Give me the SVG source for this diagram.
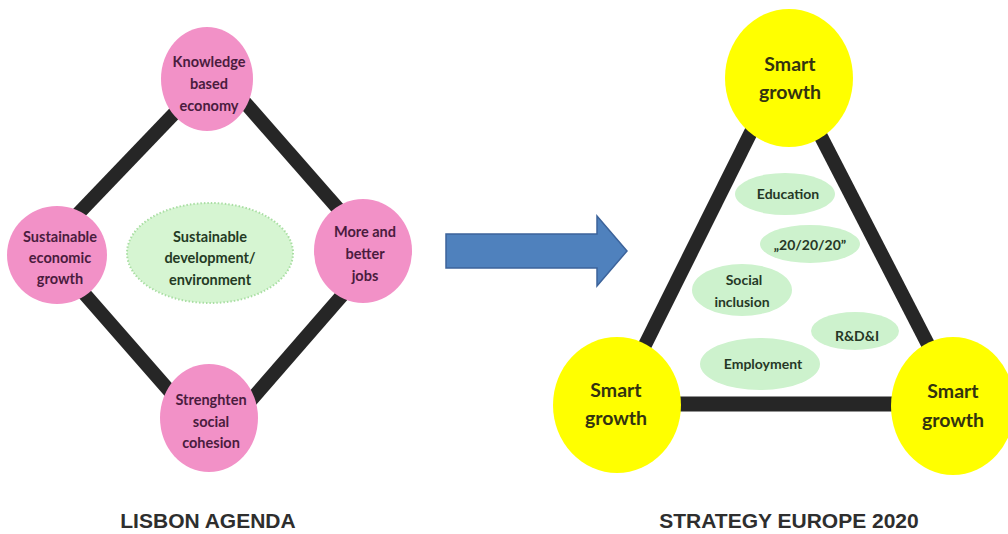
<svg xmlns="http://www.w3.org/2000/svg" width="1008" height="534" viewBox="0 0 1008 534">
<style>
.ln{stroke:#262626;stroke-width:14;stroke-linecap:butt;fill:none}
.pink{fill:#f291c7}
.yel{fill:#ffff00}
.gr{fill:#cdf2cd}
.pt{font-family:Lato,"Open Sans",sans-serif;font-weight:bold;font-size:14.5px;fill:#4a1c3e;text-anchor:middle}
.yt{font-family:Lato,"Open Sans",sans-serif;font-weight:bold;font-size:19.5px;fill:#333310;text-anchor:middle}
.gt{font-family:Lato,"Open Sans",sans-serif;font-weight:bold;font-size:14px;fill:#263826;text-anchor:middle}
.ct{font-family:Lato,"Open Sans",sans-serif;font-weight:bold;font-size:14.5px;fill:#243a24;text-anchor:middle}
.cap{font-family:"Liberation Sans",Arial,sans-serif;font-weight:bold;font-size:21px;fill:#2e2e2e;text-anchor:middle}
</style>
<rect width="1008" height="534" fill="#fff"/>
<g id="connectors">
<line class="ln" x1="190" y1="97" x2="75" y2="217"/>
<line class="ln" x1="240" y1="97" x2="348" y2="220"/>
<line class="ln" x1="75" y1="283" x2="180" y2="403"/>
<line class="ln" x1="352" y1="284" x2="245" y2="407"/>
<line class="ln" x1="757" y1="120" x2="640" y2="355"/>
<line class="ln" x1="815" y1="125" x2="935" y2="358"/>
<line class="ln" x1="670" y1="404" x2="900" y2="404" style="stroke-width:15"/>
</g>
<g id="central-ellipse">
<ellipse cx="210" cy="253" rx="83" ry="50" fill="#d6f5d2" stroke="#a9dea3" stroke-width="2" stroke-dasharray="1.5 2"/>
<text class="ct" x="210" y="242">Sustainable</text>
<text class="ct" x="210" y="263">development/</text>
<text class="ct" x="210" y="285">environment</text>
</g>
<g id="knowledge">
<ellipse class="pink" cx="207" cy="79" rx="46" ry="52"/>
<text class="pt" x="209" y="67">Knowledge</text>
<text class="pt" x="209" y="89">based</text>
<text class="pt" x="209" y="111">economy</text>
</g>
<g id="sustainable-growth">
<ellipse class="pink" cx="57" cy="255" rx="50" ry="49"/>
<text class="pt" x="60" y="242">Sustainable</text>
<text class="pt" x="60" y="263">economic</text>
<text class="pt" x="60" y="284">growth</text>
</g>
<g id="more-jobs">
<ellipse class="pink" cx="363" cy="251" rx="49" ry="52"/>
<text class="pt" x="365" y="237">More and</text>
<text class="pt" x="365" y="259">better</text>
<text class="pt" x="365" y="281">jobs</text>
</g>
<g id="social-cohesion">
<ellipse class="pink" cx="209" cy="418" rx="49" ry="54"/>
<text class="pt" x="211" y="405">Strenghten</text>
<text class="pt" x="211" y="427">social</text>
<text class="pt" x="211" y="448">cohesion</text>
</g>
<text class="cap" x="208" y="528">LISBON AGENDA</text>
<g id="arrow">
<path d="M446 234 H597 V216 L627 251 L597 286 V268 H446 Z" fill="#4f81bd" stroke="#3c639a" stroke-width="1.5"/>
</g>
<g id="smart-top">
<ellipse class="yel" cx="789" cy="78" rx="64" ry="69"/>
<text class="yt" x="790" y="71">Smart</text>
<text class="yt" x="790" y="99">growth</text>
</g>
<g id="smart-left">
<ellipse class="yel" cx="617" cy="405" rx="64" ry="68"/>
<text class="yt" x="616" y="397">Smart</text>
<text class="yt" x="616" y="425">growth</text>
</g>
<g id="smart-right">
<ellipse class="yel" cx="953" cy="406" rx="62" ry="69"/>
<text class="yt" x="953" y="398">Smart</text>
<text class="yt" x="953" y="427">growth</text>
</g>
<g id="education">
<ellipse class="gr" cx="785" cy="194" rx="50" ry="21"/>
<text class="gt" x="788" y="199">Education</text>
</g>
<g id="twenty">
<ellipse class="gr" cx="810" cy="244" rx="50" ry="19"/>
<text class="gt" x="810" y="250">„20/20/20”</text>
</g>
<g id="social-inclusion">
<ellipse class="gr" cx="742" cy="290" rx="50" ry="26"/>
<text class="gt" x="744" y="285">Social</text>
<text class="gt" x="742" y="307">inclusion</text>
</g>
<g id="rdi">
<ellipse class="gr" cx="855" cy="331" rx="44" ry="19"/>
<text class="gt" x="857" y="341">R&amp;D&amp;I</text>
</g>
<g id="employment">
<ellipse class="gr" cx="760" cy="364" rx="60" ry="26"/>
<text class="gt" x="763" y="369">Employment</text>
</g>
<text class="cap" x="789" y="528">STRATEGY EUROPE 2020</text>
</svg>
